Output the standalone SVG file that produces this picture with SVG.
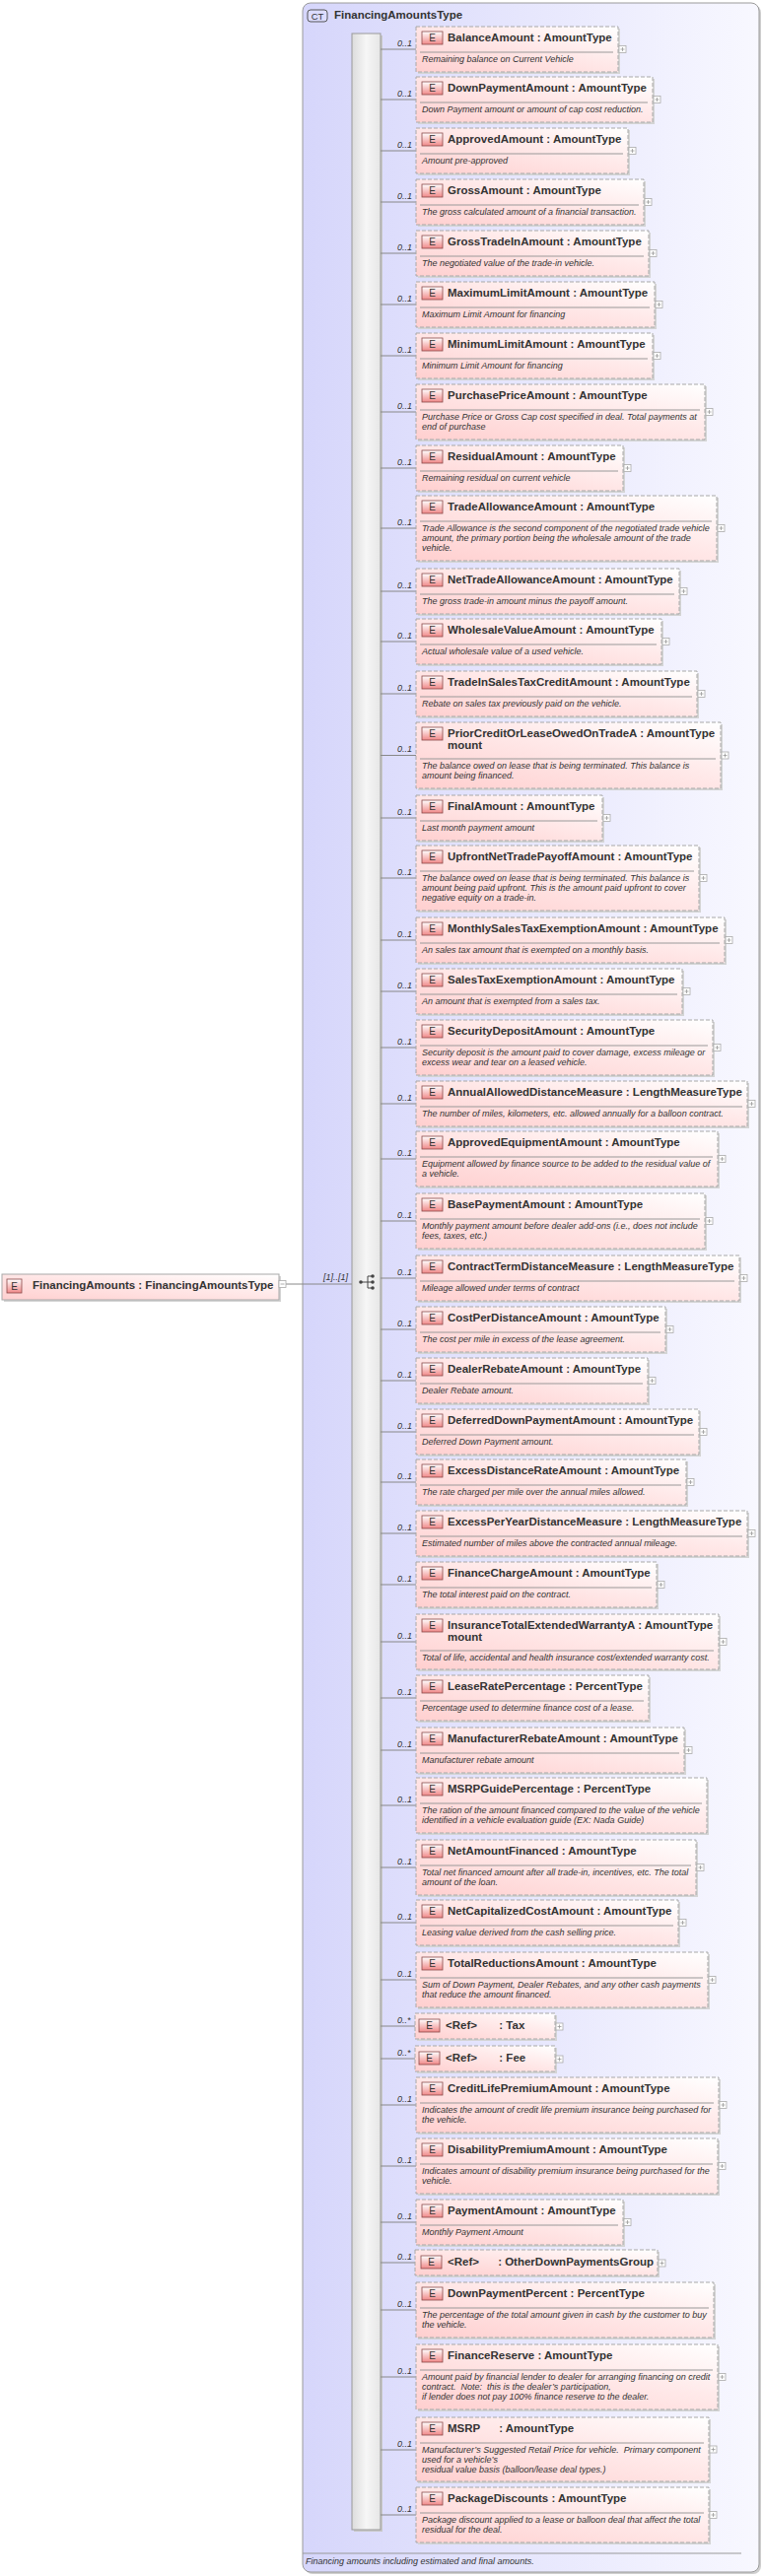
<svg xmlns="http://www.w3.org/2000/svg" xmlns:xlink="http://www.w3.org/1999/xlink" width="775" height="2614" viewBox="0 0 775 2614">
<defs>
<linearGradient id="gc" x1="0" y1="0" x2="1" y2="0"><stop offset="0" stop-color="#d6d6fb"/><stop offset="1" stop-color="#f8f8ff"/></linearGradient>
<linearGradient id="gb" x1="0" y1="1" x2="1" y2="0"><stop offset="0" stop-color="#ffcfcf"/><stop offset="0.6" stop-color="#ffeaea"/><stop offset="1" stop-color="#ffffff"/></linearGradient>
<linearGradient id="gs" x1="0" y1="0" x2="1" y2="0"><stop offset="0" stop-color="#dcdcdc"/><stop offset="0.5" stop-color="#f6f6f6"/><stop offset="1" stop-color="#e6e6e6"/></linearGradient>
<linearGradient id="ge" x1="0" y1="0" x2="0" y2="1"><stop offset="0" stop-color="#ffffff"/><stop offset="1" stop-color="#f08888"/></linearGradient>
<g id="plus"><rect x="0" y="0" width="7" height="7" fill="#fff" stroke="#aaa" stroke-width="0.8"/><path d="M1.5 3.5h4M3.5 1.5v4" stroke="#999" stroke-width="0.8"/></g>
</defs>
<style>
.sh{fill:#d4d4d4}
.box{fill:url(#gb);stroke:#a8a8a8;stroke-width:1;stroke-dasharray:4,2}
.sbox{fill:url(#gb);stroke:#a8a8a8;stroke-width:1}
.eb{fill:url(#ge);stroke:#8a4a4a;stroke-width:0.8}
.et{font-family:"Liberation Sans",Arial,sans-serif;font-size:10px;fill:#333;text-anchor:middle}
.t{font-family:"Liberation Sans",Arial,sans-serif;font-size:11.5px;font-weight:bold;fill:#333;white-space:pre}
.d{font-family:"Liberation Sans",Arial,sans-serif;font-size:9px;font-style:italic;fill:#333;white-space:pre}
.sep{stroke:#999;stroke-width:1}
.c{stroke:#888;stroke-width:1;fill:none}
.m{font-family:"Liberation Sans",Arial,sans-serif;font-size:9px;font-style:italic;fill:#333}
</style>
<rect x="309" y="5" width="463" height="2607" rx="8" fill="#cfcfcf"/>
<rect x="307" y="3" width="463" height="2607" rx="8" fill="url(#gc)" stroke="#9a9a9a"/>
<rect x="312" y="10" width="20" height="12" rx="3" fill="#dcdcff" stroke="#555"/>
<text x="322" y="20" class="et" style="font-size:9.5px">CT</text>
<text x="339" y="19" class="t">FinancingAmountsType</text>
<line x1="307" y1="2591" x2="752" y2="2591" stroke="#999"/>
<text x="310" y="2602" class="d">Financing amounts including estimated and final amounts.</text>
<rect x="359" y="36" width="29" height="2533" fill="#c8c8c8"/>
<rect x="357" y="34" width="29" height="2533" fill="url(#gs)" stroke="#999"/>
<g id="connectors">
<path class="c" d="M290 1303H357"/>
<text x="328" y="1299" class="m">[1]..[1]</text>
<circle cx="366" cy="1301" r="1.8" fill="#444"/><path d="M366 1301h7M373 1295v12M373 1295h5M373 1301h5M373 1307h5" stroke="#444" fill="none"/>
<circle cx="378" cy="1295" r="1.8" fill="#444"/><circle cx="378" cy="1301" r="1.8" fill="#444"/><circle cx="378" cy="1307" r="1.8" fill="#444"/>
<path class="c" d="M386 50H422M386 101H422M386 153H422M386 205H422M386 257H422M386 309H422M386 361H422M386 418H422M386 475H422M386 536H422M386 600H422M386 651H422M386 704H422M386 766.5H422M386 830H422M386 891H422M386 954H422M386 1006H422M386 1063H422M386 1120H422M386 1176H422M386 1239H422M386 1297H422M386 1349H422M386 1401H422M386 1453H422M386 1504H422M386 1556H422M386 1608H422M386 1666H422M386 1723H422M386 1776H422M386 1832H422M386 1895H422M386 1951H422M386 2009H422M386 2056H421M386 2089H421M386 2136H422M386 2198H422M386 2255H422M386 2296H421M386 2344H422M386 2412H422M386 2486H422M386 2552H422"/>
<g class="m">
<text x="403" y="47">0..1</text><text x="403" y="98">0..1</text><text x="403" y="150">0..1</text><text x="403" y="202">0..1</text><text x="403" y="254">0..1</text><text x="403" y="306">0..1</text><text x="403" y="358">0..1</text><text x="403" y="415">0..1</text><text x="403" y="472">0..1</text><text x="403" y="533">0..1</text><text x="403" y="597">0..1</text><text x="403" y="648">0..1</text><text x="403" y="701">0..1</text><text x="403" y="763">0..1</text><text x="403" y="827">0..1</text><text x="403" y="888">0..1</text><text x="403" y="951">0..1</text><text x="403" y="1003">0..1</text><text x="403" y="1060">0..1</text><text x="403" y="1117">0..1</text><text x="403" y="1173">0..1</text><text x="403" y="1236">0..1</text><text x="403" y="1294">0..1</text><text x="403" y="1346">0..1</text><text x="403" y="1398">0..1</text><text x="403" y="1450">0..1</text><text x="403" y="1501">0..1</text><text x="403" y="1553">0..1</text><text x="403" y="1605">0..1</text><text x="403" y="1663">0..1</text><text x="403" y="1720">0..1</text><text x="403" y="1773">0..1</text><text x="403" y="1829">0..1</text><text x="403" y="1892">0..1</text><text x="403" y="1948">0..1</text><text x="403" y="2006">0..1</text><text x="403" y="2053">0..*</text><text x="403" y="2086">0..*</text><text x="403" y="2133">0..1</text><text x="403" y="2195">0..1</text><text x="403" y="2252">0..1</text><text x="403" y="2293">0..1</text><text x="403" y="2341">0..1</text><text x="403" y="2409">0..1</text><text x="403" y="2483">0..1</text><text x="403" y="2549">0..1</text>
</g>
</g>
<g id="root"><rect class="sh" x="4" y="1295" width="281" height="26"/><rect class="sbox" x="2" y="1293" width="281" height="26"/><rect class="eb" x="7" y="1298" width="15" height="14"/><text class="et" x="14.5" y="1309">E</text><text class="t" x="33" y="1308">FinancingAmounts : FinancingAmountsType</text><rect x="283" y="1299.5" width="7" height="7" fill="#fff" stroke="#aaa" stroke-width="0.8"/><path d="M284.5 1303h4" stroke="#999" stroke-width="0.8"/></g>

<g id="n1" transform="translate(422,27)"><rect class="sh" x="2" y="2" width="205" height="46"/><rect class="box" width="205" height="46"/><rect class="eb" x="6" y="5" width="21" height="13"/><text class="et" x="16.5" y="15">E</text><text class="t" x="32" y="15">BalanceAmount : AmountType</text><line class="sep" x1="4" y1="26" x2="200" y2="26"/><text class="d" x="6" y="36">Remaining balance on Current Vehicle</text><use href="#plus" x="206" y="19.5"/></g>
<g id="n2" transform="translate(422,78)"><rect class="sh" x="2" y="2" width="240" height="46"/><rect class="box" width="240" height="46"/><rect class="eb" x="6" y="5" width="21" height="13"/><text class="et" x="16.5" y="15">E</text><text class="t" x="32" y="15">DownPaymentAmount : AmountType</text><line class="sep" x1="4" y1="26" x2="235" y2="26"/><text class="d" x="6" y="36">Down Payment amount or amount of cap cost reduction.</text><use href="#plus" x="241" y="19.5"/></g>
<g id="n3" transform="translate(422,130)"><rect class="sh" x="2" y="2" width="215" height="46"/><rect class="box" width="215" height="46"/><rect class="eb" x="6" y="5" width="21" height="13"/><text class="et" x="16.5" y="15">E</text><text class="t" x="32" y="15">ApprovedAmount : AmountType</text><line class="sep" x1="4" y1="26" x2="210" y2="26"/><text class="d" x="6" y="36">Amount pre-approved</text><use href="#plus" x="216" y="19.5"/></g>
<g id="n4" transform="translate(422,182)"><rect class="sh" x="2" y="2" width="231" height="46"/><rect class="box" width="231" height="46"/><rect class="eb" x="6" y="5" width="21" height="13"/><text class="et" x="16.5" y="15">E</text><text class="t" x="32" y="15">GrossAmount : AmountType</text><line class="sep" x1="4" y1="26" x2="226" y2="26"/><text class="d" x="6" y="36">The gross calculated amount of a financial transaction.</text><use href="#plus" x="232" y="19.5"/></g>
<g id="n5" transform="translate(422,234)"><rect class="sh" x="2" y="2" width="236" height="46"/><rect class="box" width="236" height="46"/><rect class="eb" x="6" y="5" width="21" height="13"/><text class="et" x="16.5" y="15">E</text><text class="t" x="32" y="15">GrossTradeInAmount : AmountType</text><line class="sep" x1="4" y1="26" x2="231" y2="26"/><text class="d" x="6" y="36">The negotiated value of the trade-in vehicle.</text><use href="#plus" x="237" y="19.5"/></g>
<g id="n6" transform="translate(422,286)"><rect class="sh" x="2" y="2" width="242" height="46"/><rect class="box" width="242" height="46"/><rect class="eb" x="6" y="5" width="21" height="13"/><text class="et" x="16.5" y="15">E</text><text class="t" x="32" y="15">MaximumLimitAmount : AmountType</text><line class="sep" x1="4" y1="26" x2="237" y2="26"/><text class="d" x="6" y="36">Maximum Limit Amount for financing</text><use href="#plus" x="243" y="19.5"/></g>
<g id="n7" transform="translate(422,338)"><rect class="sh" x="2" y="2" width="240" height="46"/><rect class="box" width="240" height="46"/><rect class="eb" x="6" y="5" width="21" height="13"/><text class="et" x="16.5" y="15">E</text><text class="t" x="32" y="15">MinimumLimitAmount : AmountType</text><line class="sep" x1="4" y1="26" x2="235" y2="26"/><text class="d" x="6" y="36">Minimum Limit Amount for financing</text><use href="#plus" x="241" y="19.5"/></g>
<g id="n8" transform="translate(422,390)"><rect class="sh" x="2" y="2" width="293" height="56"/><rect class="box" width="293" height="56"/><rect class="eb" x="6" y="5" width="21" height="13"/><text class="et" x="16.5" y="15">E</text><text class="t" x="32" y="15">PurchasePriceAmount : AmountType</text><line class="sep" x1="4" y1="26" x2="288" y2="26"/><text class="d" x="6" y="36">Purchase Price or Gross Cap cost specified in deal. Total payments at</text><text class="d" x="6" y="46">end of purchase</text><use href="#plus" x="294" y="24.5"/></g>
<g id="n9" transform="translate(422,452)"><rect class="sh" x="2" y="2" width="210" height="46"/><rect class="box" width="210" height="46"/><rect class="eb" x="6" y="5" width="21" height="13"/><text class="et" x="16.5" y="15">E</text><text class="t" x="32" y="15">ResidualAmount : AmountType</text><line class="sep" x1="4" y1="26" x2="205" y2="26"/><text class="d" x="6" y="36">Remaining residual on current vehicle</text><use href="#plus" x="211" y="19.5"/></g>
<g id="n10" transform="translate(422,503)"><rect class="sh" x="2" y="2" width="305" height="66"/><rect class="box" width="305" height="66"/><rect class="eb" x="6" y="5" width="21" height="13"/><text class="et" x="16.5" y="15">E</text><text class="t" x="32" y="15">TradeAllowanceAmount : AmountType</text><line class="sep" x1="4" y1="26" x2="300" y2="26"/><text class="d" x="6" y="36">Trade Allowance is the second component of the negotiated trade vehicle</text><text class="d" x="6" y="46">amount, the primary portion being the wholesale amount of the trade</text><text class="d" x="6" y="56">vehicle.</text><use href="#plus" x="306" y="29.5"/></g>
<g id="n11" transform="translate(422,577)"><rect class="sh" x="2" y="2" width="267" height="46"/><rect class="box" width="267" height="46"/><rect class="eb" x="6" y="5" width="21" height="13"/><text class="et" x="16.5" y="15">E</text><text class="t" x="32" y="15">NetTradeAllowanceAmount : AmountType</text><line class="sep" x1="4" y1="26" x2="262" y2="26"/><text class="d" x="6" y="36">The gross trade-in amount minus the payoff amount.</text><use href="#plus" x="268" y="19.5"/></g>
<g id="n12" transform="translate(422,628)"><rect class="sh" x="2" y="2" width="249" height="46"/><rect class="box" width="249" height="46"/><rect class="eb" x="6" y="5" width="21" height="13"/><text class="et" x="16.5" y="15">E</text><text class="t" x="32" y="15">WholesaleValueAmount : AmountType</text><line class="sep" x1="4" y1="26" x2="244" y2="26"/><text class="d" x="6" y="36">Actual wholesale value of a used vehicle.</text><use href="#plus" x="250" y="19.5"/></g>
<g id="n13" transform="translate(422,681)"><rect class="sh" x="2" y="2" width="285" height="46"/><rect class="box" width="285" height="46"/><rect class="eb" x="6" y="5" width="21" height="13"/><text class="et" x="16.5" y="15">E</text><text class="t" x="32" y="15">TradeInSalesTaxCreditAmount : AmountType</text><line class="sep" x1="4" y1="26" x2="280" y2="26"/><text class="d" x="6" y="36">Rebate on sales tax previously paid on the vehicle.</text><use href="#plus" x="286" y="19.5"/></g>
<g id="n14" transform="translate(422,733)"><rect class="sh" x="2" y="2" width="309" height="67"/><rect class="box" width="309" height="67"/><rect class="eb" x="6" y="5" width="21" height="13"/><text class="et" x="16.5" y="15">E</text><text class="t" x="32" y="15">PriorCreditOrLeaseOwedOnTradeA : AmountType</text><text class="t" x="32" y="27">mount</text><line class="sep" x1="4" y1="37" x2="304" y2="37"/><text class="d" x="6" y="47">The balance owed on lease that is being terminated. This balance is</text><text class="d" x="6" y="57">amount being financed.</text><use href="#plus" x="310" y="30"/></g>
<g id="n15" transform="translate(422,807)"><rect class="sh" x="2" y="2" width="189" height="46"/><rect class="box" width="189" height="46"/><rect class="eb" x="6" y="5" width="21" height="13"/><text class="et" x="16.5" y="15">E</text><text class="t" x="32" y="15">FinalAmount : AmountType</text><line class="sep" x1="4" y1="26" x2="184" y2="26"/><text class="d" x="6" y="36">Last month payment amount</text><use href="#plus" x="190" y="19.5"/></g>
<g id="n16" transform="translate(422,858)"><rect class="sh" x="2" y="2" width="287" height="66"/><rect class="box" width="287" height="66"/><rect class="eb" x="6" y="5" width="21" height="13"/><text class="et" x="16.5" y="15">E</text><text class="t" x="32" y="15">UpfrontNetTradePayoffAmount : AmountType</text><line class="sep" x1="4" y1="26" x2="282" y2="26"/><text class="d" x="6" y="36">The balance owed on lease that is being terminated. This balance is</text><text class="d" x="6" y="46">amount being paid upfront. This is the amount paid upfront to cover</text><text class="d" x="6" y="56">negative equity on a trade-in.</text><use href="#plus" x="288" y="29.5"/></g>
<g id="n17" transform="translate(422,931)"><rect class="sh" x="2" y="2" width="313" height="46"/><rect class="box" width="313" height="46"/><rect class="eb" x="6" y="5" width="21" height="13"/><text class="et" x="16.5" y="15">E</text><text class="t" x="32" y="15">MonthlySalesTaxExemptionAmount : AmountType</text><line class="sep" x1="4" y1="26" x2="308" y2="26"/><text class="d" x="6" y="36">An sales tax amount that is exempted on a monthly basis.</text><use href="#plus" x="314" y="19.5"/></g>
<g id="n18" transform="translate(422,983)"><rect class="sh" x="2" y="2" width="270" height="46"/><rect class="box" width="270" height="46"/><rect class="eb" x="6" y="5" width="21" height="13"/><text class="et" x="16.5" y="15">E</text><text class="t" x="32" y="15">SalesTaxExemptionAmount : AmountType</text><line class="sep" x1="4" y1="26" x2="265" y2="26"/><text class="d" x="6" y="36">An amount that is exempted from a sales tax.</text><use href="#plus" x="271" y="19.5"/></g>
<g id="n19" transform="translate(422,1035)"><rect class="sh" x="2" y="2" width="301" height="56"/><rect class="box" width="301" height="56"/><rect class="eb" x="6" y="5" width="21" height="13"/><text class="et" x="16.5" y="15">E</text><text class="t" x="32" y="15">SecurityDepositAmount : AmountType</text><line class="sep" x1="4" y1="26" x2="296" y2="26"/><text class="d" x="6" y="36">Security deposit is the amount paid to cover damage, excess mileage or</text><text class="d" x="6" y="46">excess wear and tear on a leased vehicle.</text><use href="#plus" x="302" y="24.5"/></g>
<g id="n20" transform="translate(422,1097)"><rect class="sh" x="2" y="2" width="336" height="46"/><rect class="box" width="336" height="46"/><rect class="eb" x="6" y="5" width="21" height="13"/><text class="et" x="16.5" y="15">E</text><text class="t" x="32" y="15">AnnualAllowedDistanceMeasure : LengthMeasureType</text><line class="sep" x1="4" y1="26" x2="331" y2="26"/><text class="d" x="6" y="36">The number of miles, kilometers, etc. allowed annually for a balloon contract.</text><use href="#plus" x="337" y="19.5"/></g>
<g id="n21" transform="translate(422,1148)"><rect class="sh" x="2" y="2" width="306" height="56"/><rect class="box" width="306" height="56"/><rect class="eb" x="6" y="5" width="21" height="13"/><text class="et" x="16.5" y="15">E</text><text class="t" x="32" y="15">ApprovedEquipmentAmount : AmountType</text><line class="sep" x1="4" y1="26" x2="301" y2="26"/><text class="d" x="6" y="36">Equipment allowed by finance source to be added to the residual value of</text><text class="d" x="6" y="46">a vehicle.</text><use href="#plus" x="307" y="24.5"/></g>
<g id="n22" transform="translate(422,1211)"><rect class="sh" x="2" y="2" width="293" height="56"/><rect class="box" width="293" height="56"/><rect class="eb" x="6" y="5" width="21" height="13"/><text class="et" x="16.5" y="15">E</text><text class="t" x="32" y="15">BasePaymentAmount : AmountType</text><line class="sep" x1="4" y1="26" x2="288" y2="26"/><text class="d" x="6" y="36">Monthly payment amount before dealer add-ons (i.e., does not include</text><text class="d" x="6" y="46">fees, taxes, etc.)</text><use href="#plus" x="294" y="24.5"/></g>
<g id="n23" transform="translate(422,1274)"><rect class="sh" x="2" y="2" width="328" height="46"/><rect class="box" width="328" height="46"/><rect class="eb" x="6" y="5" width="21" height="13"/><text class="et" x="16.5" y="15">E</text><text class="t" x="32" y="15">ContractTermDistanceMeasure : LengthMeasureType</text><line class="sep" x1="4" y1="26" x2="323" y2="26"/><text class="d" x="6" y="36">Mileage allowed under terms of contract</text><use href="#plus" x="329" y="19.5"/></g>
<g id="n24" transform="translate(422,1326)"><rect class="sh" x="2" y="2" width="253" height="46"/><rect class="box" width="253" height="46"/><rect class="eb" x="6" y="5" width="21" height="13"/><text class="et" x="16.5" y="15">E</text><text class="t" x="32" y="15">CostPerDistanceAmount : AmountType</text><line class="sep" x1="4" y1="26" x2="248" y2="26"/><text class="d" x="6" y="36">The cost per mile in excess of the lease agreement.</text><use href="#plus" x="254" y="19.5"/></g>
<g id="n25" transform="translate(422,1378)"><rect class="sh" x="2" y="2" width="235" height="46"/><rect class="box" width="235" height="46"/><rect class="eb" x="6" y="5" width="21" height="13"/><text class="et" x="16.5" y="15">E</text><text class="t" x="32" y="15">DealerRebateAmount : AmountType</text><line class="sep" x1="4" y1="26" x2="230" y2="26"/><text class="d" x="6" y="36">Dealer Rebate amount.</text><use href="#plus" x="236" y="19.5"/></g>
<g id="n26" transform="translate(422,1430)"><rect class="sh" x="2" y="2" width="287" height="46"/><rect class="box" width="287" height="46"/><rect class="eb" x="6" y="5" width="21" height="13"/><text class="et" x="16.5" y="15">E</text><text class="t" x="32" y="15">DeferredDownPaymentAmount : AmountType</text><line class="sep" x1="4" y1="26" x2="282" y2="26"/><text class="d" x="6" y="36">Deferred Down Payment amount.</text><use href="#plus" x="288" y="19.5"/></g>
<g id="n27" transform="translate(422,1481)"><rect class="sh" x="2" y="2" width="274" height="46"/><rect class="box" width="274" height="46"/><rect class="eb" x="6" y="5" width="21" height="13"/><text class="et" x="16.5" y="15">E</text><text class="t" x="32" y="15">ExcessDistanceRateAmount : AmountType</text><line class="sep" x1="4" y1="26" x2="269" y2="26"/><text class="d" x="6" y="36">The rate charged per mile over the annual miles allowed.</text><use href="#plus" x="275" y="19.5"/></g>
<g id="n28" transform="translate(422,1533)"><rect class="sh" x="2" y="2" width="336" height="46"/><rect class="box" width="336" height="46"/><rect class="eb" x="6" y="5" width="21" height="13"/><text class="et" x="16.5" y="15">E</text><text class="t" x="32" y="15">ExcessPerYearDistanceMeasure : LengthMeasureType</text><line class="sep" x1="4" y1="26" x2="331" y2="26"/><text class="d" x="6" y="36">Estimated number of miles above the contracted annual mileage.</text><use href="#plus" x="337" y="19.5"/></g>
<g id="n29" transform="translate(422,1585)"><rect class="sh" x="2" y="2" width="244" height="46"/><rect class="box" width="244" height="46"/><rect class="eb" x="6" y="5" width="21" height="13"/><text class="et" x="16.5" y="15">E</text><text class="t" x="32" y="15">FinanceChargeAmount : AmountType</text><line class="sep" x1="4" y1="26" x2="239" y2="26"/><text class="d" x="6" y="36">The total interest paid on the contract.</text><use href="#plus" x="245" y="19.5"/></g>
<g id="n30" transform="translate(422,1638)"><rect class="sh" x="2" y="2" width="307" height="56"/><rect class="box" width="307" height="56"/><rect class="eb" x="6" y="5" width="21" height="13"/><text class="et" x="16.5" y="15">E</text><text class="t" x="32" y="15">InsuranceTotalExtendedWarrantyA : AmountType</text><text class="t" x="32" y="27">mount</text><line class="sep" x1="4" y1="37" x2="302" y2="37"/><text class="d" x="6" y="47">Total of life, accidental and health insurance cost/extended warranty cost.</text><use href="#plus" x="308" y="24.5"/></g>
<g id="n31" transform="translate(422,1700)"><rect class="sh" x="2" y="2" width="236" height="46"/><rect class="box" width="236" height="46"/><rect class="eb" x="6" y="5" width="21" height="13"/><text class="et" x="16.5" y="15">E</text><text class="t" x="32" y="15">LeaseRatePercentage : PercentType</text><line class="sep" x1="4" y1="26" x2="231" y2="26"/><text class="d" x="6" y="36">Percentage used to determine finance cost of a lease.</text></g>
<g id="n32" transform="translate(422,1753)"><rect class="sh" x="2" y="2" width="272" height="46"/><rect class="box" width="272" height="46"/><rect class="eb" x="6" y="5" width="21" height="13"/><text class="et" x="16.5" y="15">E</text><text class="t" x="32" y="15">ManufacturerRebateAmount : AmountType</text><line class="sep" x1="4" y1="26" x2="267" y2="26"/><text class="d" x="6" y="36">Manufacturer rebate amount</text><use href="#plus" x="273" y="19.5"/></g>
<g id="n33" transform="translate(422,1804)"><rect class="sh" x="2" y="2" width="295" height="56"/><rect class="box" width="295" height="56"/><rect class="eb" x="6" y="5" width="21" height="13"/><text class="et" x="16.5" y="15">E</text><text class="t" x="32" y="15">MSRPGuidePercentage : PercentType</text><line class="sep" x1="4" y1="26" x2="290" y2="26"/><text class="d" x="6" y="36">The ration of the amount financed compared to the value of the vehicle</text><text class="d" x="6" y="46">identified in a vehicle evaluation guide (EX: Nada Guide)</text></g>
<g id="n34" transform="translate(422,1867)"><rect class="sh" x="2" y="2" width="284" height="56"/><rect class="box" width="284" height="56"/><rect class="eb" x="6" y="5" width="21" height="13"/><text class="et" x="16.5" y="15">E</text><text class="t" x="32" y="15">NetAmountFinanced : AmountType</text><line class="sep" x1="4" y1="26" x2="279" y2="26"/><text class="d" x="6" y="36">Total net financed amount after all trade-in, incentives, etc. The total</text><text class="d" x="6" y="46">amount of the loan.</text><use href="#plus" x="285" y="24.5"/></g>
<g id="n35" transform="translate(422,1928)"><rect class="sh" x="2" y="2" width="266" height="46"/><rect class="box" width="266" height="46"/><rect class="eb" x="6" y="5" width="21" height="13"/><text class="et" x="16.5" y="15">E</text><text class="t" x="32" y="15">NetCapitalizedCostAmount : AmountType</text><line class="sep" x1="4" y1="26" x2="261" y2="26"/><text class="d" x="6" y="36">Leasing value derived from the cash selling price.</text><use href="#plus" x="267" y="19.5"/></g>
<g id="n36" transform="translate(422,1981)"><rect class="sh" x="2" y="2" width="296" height="56"/><rect class="box" width="296" height="56"/><rect class="eb" x="6" y="5" width="21" height="13"/><text class="et" x="16.5" y="15">E</text><text class="t" x="32" y="15">TotalReductionsAmount : AmountType</text><line class="sep" x1="4" y1="26" x2="291" y2="26"/><text class="d" x="6" y="36">Sum of Down Payment, Dealer Rebates, and any other cash payments</text><text class="d" x="6" y="46">that reduce the amount financed.</text><use href="#plus" x="297" y="24.5"/></g>
<g id="n37" transform="translate(421,2043)"><rect class="sh" x="2" y="2" width="142" height="26"/><rect class="box" width="142" height="26"/><rect class="eb" x="4" y="6" width="21" height="13"/><text class="et" x="14.5" y="16">E</text><text class="t" x="31" y="16">&lt;Ref&gt;       : Tax</text><use href="#plus" x="143" y="10"/></g>
<g id="n38" transform="translate(421,2076)"><rect class="sh" x="2" y="2" width="142" height="26"/><rect class="box" width="142" height="26"/><rect class="eb" x="4" y="6" width="21" height="13"/><text class="et" x="14.5" y="16">E</text><text class="t" x="31" y="16">&lt;Ref&gt;       : Fee</text><use href="#plus" x="143" y="10"/></g>
<g id="n39" transform="translate(422,2108)"><rect class="sh" x="2" y="2" width="307" height="56"/><rect class="box" width="307" height="56"/><rect class="eb" x="6" y="5" width="21" height="13"/><text class="et" x="16.5" y="15">E</text><text class="t" x="32" y="15">CreditLifePremiumAmount : AmountType</text><line class="sep" x1="4" y1="26" x2="302" y2="26"/><text class="d" x="6" y="36">Indicates the amount of credit life premium insurance being purchased for</text><text class="d" x="6" y="46">the vehicle.</text><use href="#plus" x="308" y="24.5"/></g>
<g id="n40" transform="translate(422,2170)"><rect class="sh" x="2" y="2" width="306" height="56"/><rect class="box" width="306" height="56"/><rect class="eb" x="6" y="5" width="21" height="13"/><text class="et" x="16.5" y="15">E</text><text class="t" x="32" y="15">DisabilityPremiumAmount : AmountType</text><line class="sep" x1="4" y1="26" x2="301" y2="26"/><text class="d" x="6" y="36">Indicates amount of disability premium insurance being purchased for the</text><text class="d" x="6" y="46">vehicle.</text><use href="#plus" x="307" y="24.5"/></g>
<g id="n41" transform="translate(422,2232)"><rect class="sh" x="2" y="2" width="210" height="46"/><rect class="box" width="210" height="46"/><rect class="eb" x="6" y="5" width="21" height="13"/><text class="et" x="16.5" y="15">E</text><text class="t" x="32" y="15">PaymentAmount : AmountType</text><line class="sep" x1="4" y1="26" x2="205" y2="26"/><text class="d" x="6" y="36">Monthly Payment Amount</text><use href="#plus" x="211" y="19.5"/></g>
<g id="n42" transform="translate(421,2283)"><rect class="sh" x="2" y="2" width="246" height="26"/><rect class="box" width="246" height="26"/><rect class="eb" x="6" y="6" width="21" height="13"/><text class="et" x="16.5" y="16">E</text><text class="t" x="33" y="16">&lt;Ref&gt;      : OtherDownPaymentsGroup</text><use href="#plus" x="247" y="10"/></g>
<g id="n43" transform="translate(422,2316)"><rect class="sh" x="2" y="2" width="302" height="56"/><rect class="box" width="302" height="56"/><rect class="eb" x="6" y="5" width="21" height="13"/><text class="et" x="16.5" y="15">E</text><text class="t" x="32" y="15">DownPaymentPercent : PercentType</text><line class="sep" x1="4" y1="26" x2="297" y2="26"/><text class="d" x="6" y="36">The percentage of the total amount given in cash by the customer to buy</text><text class="d" x="6" y="46">the vehicle.</text></g>
<g id="n44" transform="translate(422,2379)"><rect class="sh" x="2" y="2" width="306" height="66"/><rect class="box" width="306" height="66"/><rect class="eb" x="6" y="5" width="21" height="13"/><text class="et" x="16.5" y="15">E</text><text class="t" x="32" y="15">FinanceReserve : AmountType</text><line class="sep" x1="4" y1="26" x2="301" y2="26"/><text class="d" x="6" y="36">Amount paid by financial lender to dealer for arranging financing on credit</text><text class="d" x="6" y="46">contract.  Note:  this is the dealer’s participation,</text><text class="d" x="6" y="56">if lender does not pay 100% finance reserve to the dealer.</text><use href="#plus" x="307" y="29.5"/></g>
<g id="n45" transform="translate(422,2453)"><rect class="sh" x="2" y="2" width="297" height="65"/><rect class="box" width="297" height="65"/><rect class="eb" x="6" y="5" width="21" height="13"/><text class="et" x="16.5" y="15">E</text><text class="t" x="32" y="15">MSRP      : AmountType</text><line class="sep" x1="4" y1="26" x2="292" y2="26"/><text class="d" x="6" y="36">Manufacturer’s Suggested Retail Price for vehicle.  Primary component</text><text class="d" x="6" y="46">used for a vehicle’s</text><text class="d" x="6" y="56">residual value basis (balloon/lease deal types.)</text><use href="#plus" x="298" y="29"/></g>
<g id="n46" transform="translate(422,2524)"><rect class="sh" x="2" y="2" width="297" height="56"/><rect class="box" width="297" height="56"/><rect class="eb" x="6" y="5" width="21" height="13"/><text class="et" x="16.5" y="15">E</text><text class="t" x="32" y="15">PackageDiscounts : AmountType</text><line class="sep" x1="4" y1="26" x2="292" y2="26"/><text class="d" x="6" y="36">Package discount applied to a lease or balloon deal that affect the total</text><text class="d" x="6" y="46">residual for the deal.</text><use href="#plus" x="298" y="24.5"/></g>
</svg>
